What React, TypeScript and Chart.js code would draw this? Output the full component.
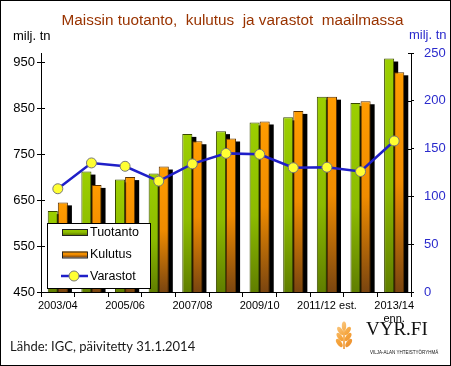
import { useEffect, useRef } from 'react';
import { Chart, registerables } from 'chart.js';
Chart.register(...registerables);

const categories: (string | string[])[] = ['2003/04', '2004/05', '2005/06', '2006/07', '2007/08', '2008/09', '2009/10', '2010/11', '2011/12 est.', '2012/13', ['2013/14', 'enn.']];
const tuotanto = [626, 712, 695, 708, 794, 800, 819, 830, 875, 861, 958];
const kulutus = [645, 683, 700, 723, 778, 784, 821, 844, 875, 865, 928];
const varastot = [108, 135, 131.5, 116, 134, 145, 144, 130, 130.5, 126, 158];
const leftTicks = [450, 550, 650, 750, 850, 950];
const rightTicks = [0, 50, 100, 150, 200, 250];
const seriesNames = ['Tuotanto', 'Kulutus', 'Varastot'];
const titleText = 'Maissin tuotanto,  kulutus  ja varastot  maailmassa';
const unitText = 'milj. tn';
const sourceText = 'Lähde: IGC, päivitetty 31.1.2014';
const logoText = 'VYR.FI';
const logoSub = 'VILJA-ALAN YHTEISTYÖRYHMÄ';

const SANS = "'Liberation Sans', Arial, sans-serif";
const GREEN_STOPS: [number, string][] = [[0, '#9ccf00'], [0.55, '#8cbb00'], [1, '#607e00']];
const ORANGE_STOPS: [number, string][] = [[0, '#ff9c00'], [0.5, '#f08c00'], [1, '#7a4510']];
const BLUE = '#1f1fc8';

function grad(ctx: CanvasRenderingContext2D, y0: number, y1: number, stops: [number, string][]) {
  const g = ctx.createLinearGradient(0, y0, 0, y1);
  stops.forEach(([o, c]) => g.addColorStop(o, c));
  return g;
}

function barFill(stops: [number, string][]) {
  return (c: any) => {
    const chart = c.chart;
    const area = chart.chartArea;
    const y = chart.scales && chart.scales.y;
    if (!area || !y || c.type !== 'data') return stops[0][1];
    const top = y.getPixelForValue(c.raw as number);
    return grad(chart.ctx, top, area.bottom, stops);
  };
}

const decor = {
  id: 'decor',
  beforeDatasetsDraw(chart: any) {
    const ctx: CanvasRenderingContext2D = chart.ctx;
    const a = chart.chartArea;
    ctx.save();
    ctx.beginPath();
    ctx.rect(a.left, a.top - 5, a.right - a.left, a.bottom - a.top + 5);
    ctx.clip();
    ctx.fillStyle = '#000';
    chart.data.datasets.forEach((ds: any, i: number) => {
      if (ds.type !== 'bar') return;
      const meta = chart.getDatasetMeta(i);
      meta.data.forEach((el: any) => {
        const p = el.getProps(['x', 'y', 'base', 'width'], true);
        ctx.fillRect(p.x - p.width / 2 + 4, p.y + 3, p.width, p.base - p.y);
      });
    });
    ctx.restore();
  },
  afterDraw(chart: any) {
    const ctx: CanvasRenderingContext2D = chart.ctx;
    const a = chart.chartArea;
    ctx.save();
    ctx.strokeStyle = '#000';
    ctx.lineWidth = 1;
    const yl = chart.scales.y;
    const yr = chart.scales.y2;
    leftTicks.forEach((v) => {
      const py = Math.round(yl.getPixelForValue(v)) + 0.5;
      ctx.beginPath(); ctx.moveTo(a.left, py); ctx.lineTo(a.left + 4, py); ctx.stroke();
    });
    rightTicks.forEach((v) => {
      const py = Math.round(yr.getPixelForValue(v)) + 0.5;
      ctx.beginPath(); ctx.moveTo(a.right - 3, py); ctx.lineTo(a.right, py); ctx.stroke();
    });

    ctx.font = `15.3px ${SANS}`;
    ctx.fillStyle = '#993300';
    ctx.textAlign = 'center';
    ctx.textBaseline = 'middle';
    ctx.fillText(titleText, 232.5, 21);

    ctx.font = `13px ${SANS}`;
    ctx.textAlign = 'left';
    ctx.fillStyle = '#000';
    ctx.fillText(unitText, 13, 36);
    ctx.fillStyle = '#2b2bcc';
    ctx.fillText(unitText, 409, 35);

    ctx.fillStyle = '#fff';
    ctx.fillRect(47.5, 223.5, 103, 65);
    ctx.strokeStyle = '#000';
    ctx.strokeRect(47.5, 223.5, 103, 65);
    const rows = [232, 254.5, 276];
    const sw = [GREEN_STOPS, ORANGE_STOPS];
    for (let i = 0; i < 2; i++) {
      const y0 = rows[i] - 3;
      ctx.fillStyle = grad(ctx, y0, y0 + 6, sw[i]);
      ctx.fillRect(62, y0, 25, 6);
      ctx.strokeStyle = '#222';
      ctx.strokeRect(62.5, y0 + 0.5, 25, 6);
    }
    ctx.strokeStyle = BLUE;
    ctx.lineWidth = 2.5;
    ctx.beginPath(); ctx.moveTo(61, rows[2]); ctx.lineTo(88, rows[2]); ctx.stroke();
    ctx.beginPath(); ctx.arc(74, rows[2], 5, 0, Math.PI * 2);
    ctx.fillStyle = '#ffff33'; ctx.fill();
    ctx.lineWidth = 1; ctx.strokeStyle = '#777'; ctx.stroke();
    ctx.font = `12.5px ${SANS}`;
    ctx.fillStyle = '#000';
    ctx.textAlign = 'left';
    ctx.textBaseline = 'middle';
    seriesNames.forEach((n, i) => ctx.fillText(n, 90, rows[i] + 0.5));

    ctx.font = `13px Lato, 'Open Sans', sans-serif`;
    ctx.fillStyle = '#1a1a1a';
    ctx.fillText(sourceText, 10, 347);

    const cx = 344;
    const gg = ctx.createLinearGradient(333, 322, 356, 350);
    gg.addColorStop(0, '#fcd59a');
    gg.addColorStop(0.5, '#f5a43c');
    gg.addColorStop(1, '#e8862a');
    ctx.fillStyle = gg;
    ctx.beginPath(); ctx.ellipse(cx, 326, 2.2, 4.5, 0, 0, Math.PI * 2); ctx.fill();
    [331, 337, 343].forEach((yy, k) => {
      const sp = 3.5 + k * 0.6;
      ctx.beginPath(); ctx.ellipse(cx - sp, yy, 2.3, 4.8, -0.6, 0, Math.PI * 2); ctx.fill();
      ctx.beginPath(); ctx.ellipse(cx + sp, yy, 2.3, 4.8, 0.6, 0, Math.PI * 2); ctx.fill();
    });
    ctx.fillRect(cx - 0.8, 330, 1.6, 19);

    ctx.font = `19px 'Liberation Serif', 'Times New Roman', serif`;
    ctx.fillStyle = '#111';
    ctx.textBaseline = 'alphabetic';
    ctx.fillText(logoText, 366, 335);
    ctx.font = `4.5px ${SANS}`;
    ctx.fillText(logoSub, 370, 354);

    ctx.strokeStyle = '#000';
    ctx.lineWidth = 1;
    ctx.strokeRect(0.5, 0.5, 450, 365);
    ctx.restore();
  },
};

export default function App() {
  const ref = useRef<HTMLCanvasElement>(null);
  useEffect(() => {
    if (!ref.current) return;
    const chart = new Chart(ref.current, {
      type: 'bar',
      data: {
        labels: categories as any,
        datasets: [
          {
            type: 'bar', label: seriesNames[0], data: tuotanto, yAxisID: 'y', order: 0,
            backgroundColor: barFill(GREEN_STOPS) as any, borderColor: '#3a4a00', borderWidth: 1,
            barPercentage: 1, categoryPercentage: 0.6, borderSkipped: 'bottom',
          },
          {
            type: 'bar', label: seriesNames[1], data: kulutus, yAxisID: 'y', order: 0,
            backgroundColor: barFill(ORANGE_STOPS) as any, borderColor: '#5a3000', borderWidth: 1,
            barPercentage: 1, categoryPercentage: 0.6, borderSkipped: 'bottom',
          },
          {
            type: 'line', label: seriesNames[2], data: varastot, yAxisID: 'y2', order: -1,
            borderColor: BLUE, borderWidth: 2.5, tension: 0,
            pointRadius: 5, pointBackgroundColor: '#ffff33', pointBorderColor: '#777', pointBorderWidth: 1,
          } as any,
        ],
      },
      options: {
        responsive: false,
        animation: false,
        devicePixelRatio: 1,
        layout: { padding: { top: 53, left: 0, right: 0, bottom: 0 } },
        plugins: { legend: { display: false }, title: { display: false }, tooltip: { enabled: false } },
        scales: {
          x: {
            offset: true,
            grid: { offset: true, drawOnChartArea: false, drawTicks: true, tickLength: 5, color: '#000' },
            border: { display: true, color: '#000' },
            ticks: {
              autoSkip: false, maxRotation: 0, color: '#000', padding: 2,
              font: { family: SANS, size: 11 },
              callback: (_v: any, i: number) => (i % 2 === 0 ? (categories[i] as any) : ''),
            },
            afterFit: (s: any) => { s.height = 74; },
          },
          y: {
            position: 'left', min: 450, max: 970,
            grid: { drawOnChartArea: false, drawTicks: true, tickLength: 4, color: '#000' },
            border: { display: true, color: '#000' },
            ticks: { color: '#000', padding: 2, font: { family: SANS, size: 13 } },
            afterBuildTicks: (s: any) => { s.ticks = leftTicks.map((v) => ({ value: v })); },
            afterFit: (s: any) => { s.width = 41; },
          },
          y2: {
            position: 'right', min: 0, max: 250,
            grid: { drawOnChartArea: false, drawTicks: true, tickLength: 3, color: '#000' },
            border: { display: true, color: '#000' },
            ticks: { color: '#2b2bcc', padding: 10, font: { family: SANS, size: 13 } },
            afterBuildTicks: (s: any) => { s.ticks = rightTicks.map((v) => ({ value: v })); },
            afterFit: (s: any) => { s.width = 40; },
          },
        },
      },
      plugins: [decor],
    } as any);
    return () => chart.destroy();
  }, []);
  return (
    <div style={{ position: 'absolute', left: 0, top: 0, width: 451, height: 366, background: '#fff' }}>
      <canvas ref={ref} width={451} height={366} style={{ display: 'block' }} />
    </div>
  );
}
